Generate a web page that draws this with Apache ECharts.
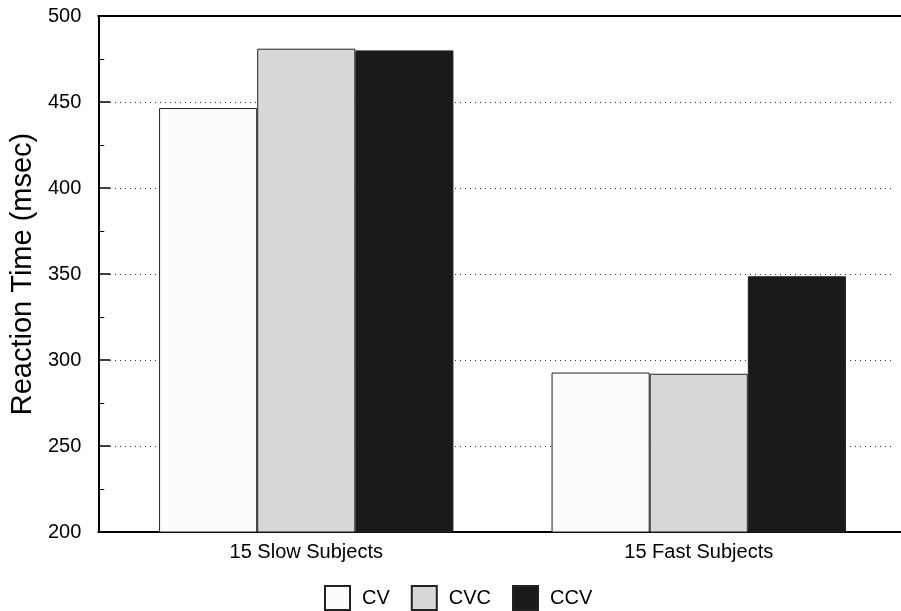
<!DOCTYPE html>
<html>
<head>
<meta charset="utf-8">
<script src="https://cdn.jsdelivr.net/npm/echarts@6/dist/echarts.min.js"></script>
<style>
  html, body { margin: 0; padding: 0; background: #fff; }
  #chart { width: 901px; height: 611px; }
</style>
</head>
<body>
<div id="chart"></div>
<script>
const categories = ['15 Slow Subjects', '15 Fast Subjects'];
const cvValues = [446.5, 292.7];
const cvcValues = [481, 292];
const ccvValues = [480, 348.7];
const yTicks = [200, 250, 300, 350, 400, 450, 500];

const chart = echarts.init(document.getElementById('chart'));

const font = 'Liberation Sans, Arial, sans-serif';
const barStyle = (fill) => ({color: fill, borderColor: '#222', borderWidth: 1});
const yMin = yTicks[0];
const yMax = yTicks[yTicks.length - 1];

const option = {
  animation: false,
  textStyle: {fontFamily: font},
  legend: {
    left: 324,
    top: 585,
    padding: 0,
    itemWidth: 25,
    itemHeight: 24,
    itemGap: 21,
    icon: 'rect',
    textStyle: {fontSize: 20, color: '#000', fontFamily: font, padding: [0, 0, 0, 7]},
    data: ['CV', 'CVC', 'CCV']
  },
  grid: [
    // frame: axes, ticks, bottom and top lines
    {left: 98, right: 0, top: 16, bottom: 79},
    // bars
    {left: 110, right: 6, top: 16, bottom: 79}
  ],
  xAxis: [
    {
      gridIndex: 0, type: 'value', min: 0, max: 1, position: 'bottom',
      axisLine: {show: true, lineStyle: {color: '#000', width: 2}},
      axisTick: {show: false}, axisLabel: {show: false}, splitLine: {show: false}
    },
    {
      gridIndex: 0, type: 'value', min: 0, max: 1, position: 'top',
      axisLine: {show: true, lineStyle: {color: '#000', width: 2}},
      axisTick: {show: false}, axisLabel: {show: false}, splitLine: {show: false}
    },
    {
      gridIndex: 1, type: 'category', data: categories,
      axisLine: {show: false}, axisTick: {show: false},
      axisLabel: {fontSize: 20, color: '#000', margin: 10, fontFamily: font}
    }
  ],
  yAxis: [
    {
      gridIndex: 0, type: 'value',
      min: yMin, max: yMax, interval: 50,
      name: 'Reaction Time (msec)',
      nameLocation: 'middle',
      nameGap: 51,
      nameTextStyle: {fontSize: 29, color: '#000', fontFamily: font},
      axisLine: {show: true, lineStyle: {color: '#000', width: 2}},
      axisTick: {show: true, inside: true, length: 12, lineStyle: {color: '#000', width: 1.5}},
      minorTick: {show: true, splitNumber: 2, length: 6, lineStyle: {color: '#000', width: 1}},
      axisLabel: {fontSize: 20, color: '#000', margin: 17, fontFamily: font},
      splitLine: {show: false}
    },
    {
      gridIndex: 1, type: 'value',
      min: yMin, max: yMax, interval: 50,
      axisLine: {show: false}, axisTick: {show: false}, axisLabel: {show: false},
      splitLine: {show: true, lineStyle: {color: '#333', type: [1, 4], width: 1}}
    }
  ],
  series: [
    {name: 'CV', type: 'bar', xAxisIndex: 2, yAxisIndex: 1, data: cvValues,
      barGap: '0%', barCategoryGap: '25%', itemStyle: barStyle('#fcfcfc')},
    {name: 'CVC', type: 'bar', xAxisIndex: 2, yAxisIndex: 1, data: cvcValues,
      barGap: '0%', barCategoryGap: '25%', itemStyle: barStyle('#d8d8d8')},
    {name: 'CCV', type: 'bar', xAxisIndex: 2, yAxisIndex: 1, data: ccvValues,
      barGap: '0%', barCategoryGap: '25%', itemStyle: barStyle('#1a1a1a')}
  ]
};

chart.setOption(option);
</script>
</body>
</html>
